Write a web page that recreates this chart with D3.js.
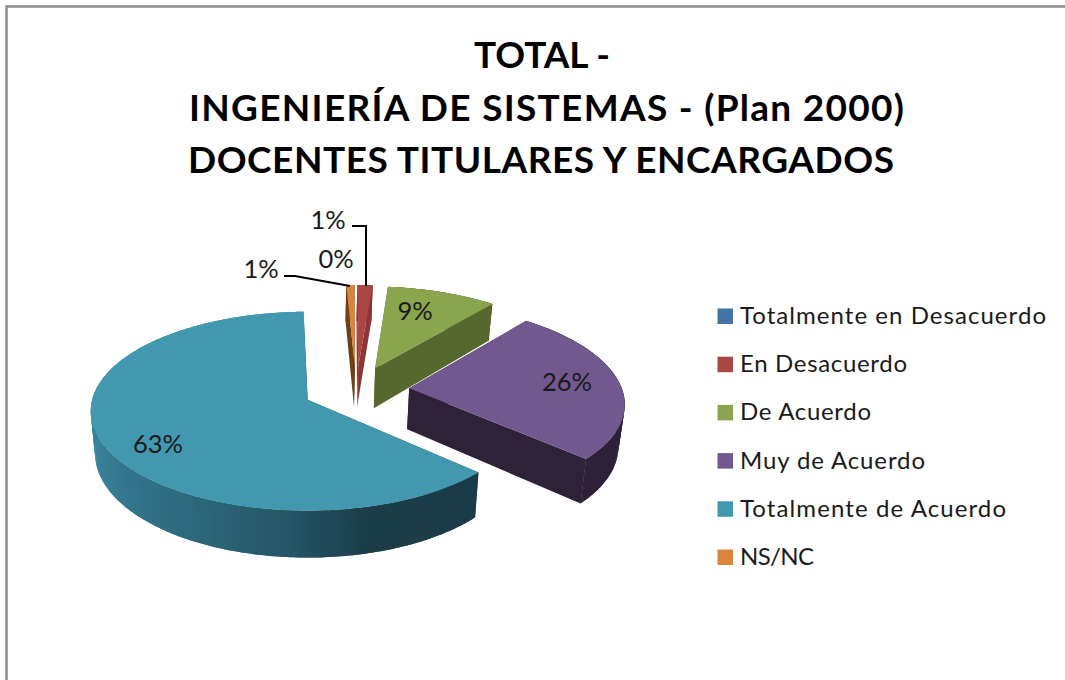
<!DOCTYPE html>
<html><head><meta charset="utf-8">
<script src="https://cdnjs.cloudflare.com/ajax/libs/d3/7.8.5/d3.min.js"></script>
<style>html,body{margin:0;padding:0;background:#fff}svg{display:block}text{font-family:Lato,"Open Sans",sans-serif}</style>
</head><body><div id="c"></div>
<script>
const titleLines = ["TOTAL -", "INGENIERÍA DE SISTEMAS - (Plan 2000)", "DOCENTES TITULARES Y ENCARGADOS"];
const categories = ["Totalmente en Desacuerdo", "En Desacuerdo", "De Acuerdo", "Muy de Acuerdo", "Totalmente de Acuerdo", "NS/NC"];
const values = [0, 1.3, 9.4, 25.9, 62.7, 0.7];
const labels = ["0%", "1%", "9%", "26%", "63%", "1%"];
const topColors = ["#4572a7", "#aa4643", "#89a54e", "#71588f", "#4198af", "#db843d"];
const wallColors = ["#2c4468", "#8c3636", "#57682f", "#2d2238", "#1b3c48", "#6e4018"];
const labelXY = [[336,262],[328,223],[415,314],[567,385],[158,447],[261,272]];
const legendWidths = [306, 167, 131, 185, 266, 74];

const W = 1065, H = 680;
const svg = d3.select("#c").append("svg").attr("width", W).attr("height", H);
const rad = d => d * Math.PI / 180;

// frame
svg.append("path").attr("d", `M6.5,${H}V6.5H${W}`).attr("fill","none").attr("stroke","#8a8a8a").attr("stroke-width",2.5);

// title
const titleX = [542, 546.5, 541], titleY = [68, 121, 172.5], titleW = [136, 715, 706];
svg.selectAll(".t").data(titleLines).join("text").attr("class","t")
  .attr("x",(d,i)=>titleX[i]).attr("y",(d,i)=>titleY[i]).attr("text-anchor","middle")
  .attr("textLength",(d,i)=>titleW[i]).attr("lengthAdjust","spacing")
  .attr("font-size",37).attr("font-weight",700).attr("fill","#000").text(d=>d);

// pie layout (clockwise from 12 o'clock) and perspective projection of the disc
const startDeg = 1.3;
const pie = d3.pie().sort(null).value(d=>d.v).startAngle(rad(startDeg)).endAngle(rad(startDeg+360));
const arcs = pie(categories.map((c,i)=>({c,v:values[i],i})));
const P = {cx:308, cy:400, a:215.5, b:98.2, p:0.1155, depth:41.5, shrink:0.98};
const centre = {u:0.2265, v:0.105}, explode = 0.25;
function proj(u,v,low){
  const w = 1 + P.p*v;
  let x = P.a*u/w, y = -P.b*v/w;
  if(low){ x *= P.shrink; y += P.depth/w; }
  return [P.cx+x, P.cy+y];
}
const tealShade = d3.scaleLinear().domain([132,165,182,210,250,275]).range(["#1a3b47","#1b3d49","#245565","#2e6a7e","#38829a","#3d8ca6"]);
const line = d3.line();

function slice(a){
  const i = a.data.i;
  if(a.data.v===0) return;
  const mid = (a.startAngle+a.endAngle)/2;
  const o = {u:centre.u+explode*Math.sin(mid), v:centre.v+explode*Math.cos(mid)};
  const pt = (t,low)=>proj(o.u+Math.sin(t), o.v+Math.cos(t), low);
  const apex = low=>proj(o.u,o.v,low);
  const g = svg.append("g").attr("class","slice-"+i);
  const wall = wallColors[i];
  [a.startAngle,a.endAngle].forEach(t=>{
    g.append("path").attr("d",line([apex(false),pt(t,false),pt(t,true),apex(true)])+"Z").attr("fill",wall);
  });
  const ang = d3.range(a.startAngle,a.endAngle,rad(1)).concat([a.endAngle]);
  // outer wall: overlapping quads painted from the far end so no seams show
  d3.pairs(ang).reverse().forEach(([t0,t1])=>{
    const deg=(t0*180/Math.PI);
    const col = i===4 ? tealShade(deg) : wall;
    const t2 = Math.min(t1+rad(1),a.endAngle);
    g.append("path").attr("d",line([pt(t0,false),pt(t1,false),pt(t2,false),pt(t2,true),pt(t1,true),pt(t0,true)])+"Z").attr("fill",col);
  });
  g.append("path").attr("d",line([apex(false)].concat(ang.map(t=>pt(t,false))))+"Z").attr("fill",topColors[i]);
}
[5,1,2,3,4].forEach(i=>slice(arcs[i]));

// leader lines
const leaders = [[[352,226],[366,226],[366,286]],[[284,276],[295,276],[350,286]]];
svg.selectAll(".ld").data(leaders).join("path").attr("class","ld").attr("d",d=>line(d)).attr("fill","none").attr("stroke","#000").attr("stroke-width",2);

// data labels
svg.selectAll(".dl").data(labels).join("text").attr("class","dl")
  .attr("x",(d,i)=>labelXY[i][0]).attr("y",(d,i)=>labelXY[i][1]).attr("text-anchor","middle").attr("dominant-baseline","middle")
  .attr("font-size",25.5).attr("fill","#1a1a1a").text(d=>d);

// legend
const legendY = d3.scalePoint().domain(categories).range([316,557]);
const lg = svg.selectAll(".lg").data(categories).join("g").attr("class","lg").attr("transform",d=>`translate(0,${legendY(d)})`);
lg.append("rect").attr("x",717.5).attr("y",-7.5).attr("width",15.5).attr("height",15.5).attr("fill",(d,i)=>topColors[i]);
lg.append("text").attr("x",740).attr("y",8).attr("font-size",24).attr("textLength",(d,i)=>legendWidths[i]).attr("lengthAdjust","spacing").attr("fill","#1a1a1a").text(d=>d);
</script></body></html>
